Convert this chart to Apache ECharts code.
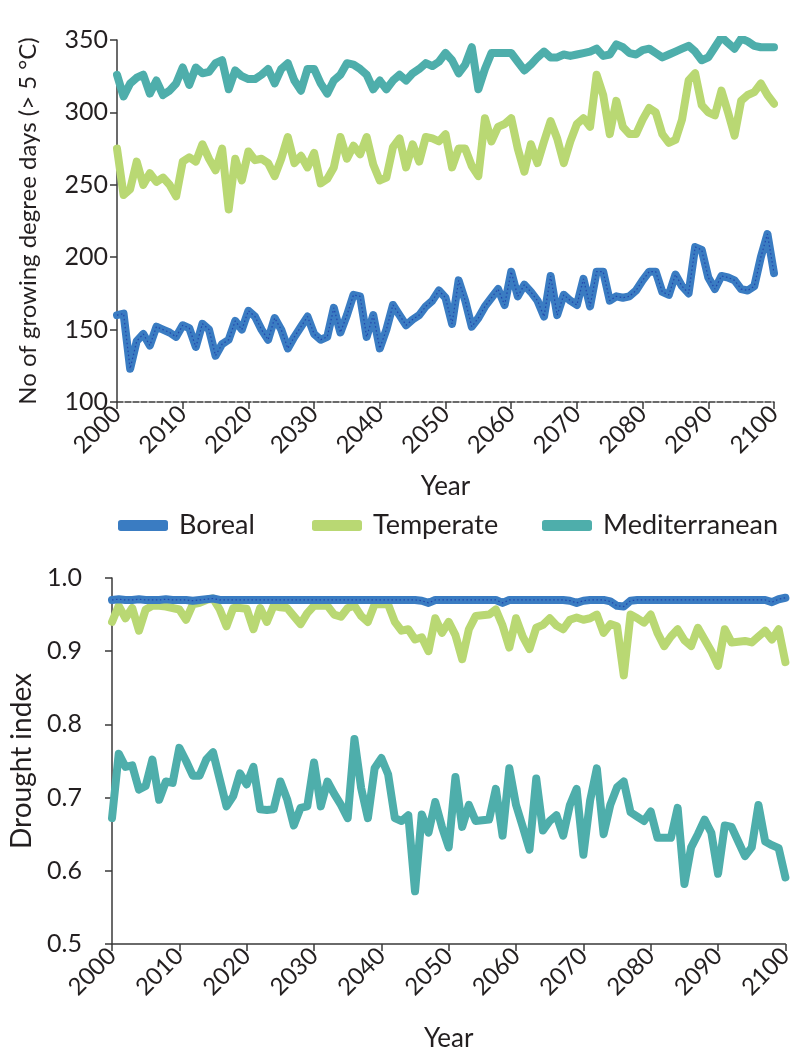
<!DOCTYPE html>
<html>
<head>
<meta charset="utf-8">
<script src="https://cdn.jsdelivr.net/npm/echarts@6/dist/echarts.min.js"></script>
<style>
  html, body { margin: 0; padding: 0; background: #ffffff; }
  #chart { width: 796px; height: 1053px; }
</style>
</head>
<body>
<div id="chart"></div>
<script>
// ---------- DATA ----------
const START_YEAR = 2000;
const END_YEAR = 2100;
const seriesNames = ['Boreal', 'Temperate', 'Mediterranean'];
const topTicks = [100, 150, 200, 250, 300, 350];
const bottomTicks = [0.5, 0.6, 0.7, 0.8, 0.9, 1.0];

// Growing degree days (> 5 °C), one value per year 2000..2100
const gddBoreal = [
  160, 161, 123, 142, 147, 139, 152, 150, 148, 145,
  153, 151, 138, 154, 150, 132, 140, 143, 156, 150,
  163, 159, 150, 143, 158, 150, 137, 145, 152, 159,
  147, 143, 145, 165, 148, 160, 174, 173, 145, 160,
  137, 150, 167, 160, 153, 157, 160, 166, 170, 177,
  172, 154, 184, 170, 152, 158, 166, 172, 178, 167,
  190, 173, 181, 176, 170, 159, 187, 160, 174, 170,
  167, 185, 166, 190, 190, 170, 173, 172, 173, 177,
  184, 190, 190, 176, 174, 188, 180, 175, 207, 205,
  186, 178, 187, 186, 184, 178, 177, 180, 200, 216,
  189
];
const gddTemperate = [
  275, 243, 247, 266, 250, 258, 252, 255, 250, 242,
  266, 269, 266, 278, 268, 260, 275, 233, 268, 253,
  273, 267, 268, 265, 256, 268, 283, 265, 270, 262,
  272, 251, 254, 262, 283, 268, 277, 271, 283, 264,
  253, 255, 276, 282, 262, 278, 266, 283, 282, 280,
  285, 262, 275, 275, 263, 256, 296, 280, 290, 292,
  296, 275, 259, 278, 265, 280, 294, 282, 265, 280,
  292, 296, 290, 326, 312, 285, 308, 290, 285, 285,
  295, 303, 300, 285, 279, 281, 295, 322, 327, 305,
  300, 298, 315, 300, 284, 308, 312, 314, 320, 312,
  306
];
const gddMediterranean = [
  326, 311, 320, 324, 326, 313, 322, 312, 315, 320,
  331, 319, 331, 327, 328, 334, 336, 316, 329, 325,
  323, 323, 326, 330, 320, 330, 334, 322, 315, 330,
  330, 320, 313, 322, 326, 334, 333, 330, 326, 316,
  322, 316, 322, 326, 322, 327, 330, 334, 332, 335,
  341, 336, 327, 333, 345, 316, 330, 341, 341, 341,
  341, 335, 329, 333, 338, 342, 338, 338, 340, 339,
  340, 341, 342, 344, 339, 340, 347, 345, 341, 340,
  343, 344, 341, 338, 340, 342, 344, 346, 342, 336,
  338, 345, 352, 348, 344, 351, 349, 346, 345, 345,
  345
];

// Drought index, one value per year 2000..2100
const diBoreal = [
  0.970, 0.971, 0.970, 0.970, 0.971, 0.970, 0.970, 0.970, 0.971, 0.970,
  0.970, 0.970, 0.969, 0.970, 0.971, 0.972, 0.970, 0.970, 0.970, 0.970,
  0.970, 0.970, 0.970, 0.970, 0.970, 0.970, 0.970, 0.970, 0.970, 0.970,
  0.970, 0.970, 0.970, 0.970, 0.970, 0.970, 0.970, 0.970, 0.970, 0.970,
  0.970, 0.970, 0.970, 0.970, 0.970, 0.970, 0.969, 0.966, 0.970, 0.970,
  0.970, 0.970, 0.970, 0.970, 0.970, 0.970, 0.970, 0.970, 0.966, 0.970,
  0.970, 0.970, 0.970, 0.970, 0.970, 0.970, 0.970, 0.970, 0.969, 0.966,
  0.969, 0.970, 0.970, 0.970, 0.968, 0.962, 0.961, 0.969, 0.970, 0.970,
  0.970, 0.970, 0.970, 0.970, 0.970, 0.970, 0.970, 0.970, 0.970, 0.970,
  0.970, 0.970, 0.970, 0.970, 0.970, 0.970, 0.970, 0.970, 0.967, 0.971,
  0.973
];
const diTemperate = [
  0.940, 0.962, 0.945, 0.959, 0.928, 0.957, 0.962, 0.962, 0.961, 0.959,
  0.957, 0.943, 0.964, 0.966, 0.970, 0.972, 0.957, 0.934, 0.959, 0.959,
  0.958, 0.930, 0.959, 0.940, 0.962, 0.960, 0.959, 0.948, 0.937, 0.952,
  0.962, 0.962, 0.962, 0.950, 0.947, 0.959, 0.962, 0.948, 0.940, 0.964,
  0.964, 0.964, 0.940, 0.928, 0.930, 0.916, 0.919, 0.900, 0.945, 0.925,
  0.940, 0.922, 0.889, 0.930, 0.948, 0.949, 0.950, 0.957, 0.935, 0.905,
  0.945, 0.920, 0.903, 0.932, 0.936, 0.945, 0.935, 0.930, 0.943, 0.946,
  0.943, 0.945, 0.950, 0.925, 0.937, 0.934, 0.867, 0.950, 0.945, 0.939,
  0.950, 0.925, 0.907, 0.920, 0.930, 0.915, 0.907, 0.932, 0.916, 0.900,
  0.880, 0.930, 0.912, 0.913, 0.914, 0.912, 0.920, 0.928, 0.916, 0.930,
  0.885
];
const diMediterranean = [
  0.672, 0.760, 0.742, 0.744, 0.711, 0.716, 0.752, 0.697, 0.722, 0.720,
  0.768, 0.750, 0.730, 0.730, 0.752, 0.762, 0.725, 0.688, 0.702, 0.733,
  0.718, 0.742, 0.684, 0.683, 0.684, 0.722, 0.698, 0.662, 0.686, 0.688,
  0.748, 0.688, 0.722, 0.705, 0.690, 0.672, 0.780, 0.713, 0.672, 0.740,
  0.754, 0.732, 0.672, 0.668, 0.676, 0.572, 0.677, 0.652, 0.694, 0.660,
  0.632, 0.728, 0.660, 0.690, 0.668, 0.669, 0.670, 0.712, 0.648, 0.740,
  0.690, 0.660, 0.629, 0.726, 0.655, 0.668, 0.676, 0.648, 0.690, 0.712,
  0.622, 0.696, 0.740, 0.650, 0.690, 0.714, 0.722, 0.680, 0.674, 0.668,
  0.681, 0.645, 0.645, 0.645, 0.686, 0.582, 0.632, 0.650, 0.670, 0.652,
  0.596, 0.662, 0.660, 0.640, 0.620, 0.632, 0.690, 0.640, 0.635, 0.631,
  0.591
];

// ---------- STYLE ----------
const COLORS = { Boreal: '#3a7cc2', Temperate: '#b9d873', Mediterranean: '#4eaeab' };
const DOT_COLOR = '#1c3aa8';
const FONT = 'Lato, "Open Sans", sans-serif';
const TXT = '#231f20';
const AX = '#3a3a3a';
const LEGEND_LEFT = [113, 307, 537];

const years = [];
for (let y = START_YEAR; y <= END_YEAR; y++) years.push(y);
const pairs = vals => years.map((y, i) => [y, vals[i]]);

function lineSeries(name, vals, xi, yi, extra) {
  return Object.assign({
    name: name, type: 'line', xAxisIndex: xi, yAxisIndex: yi,
    data: pairs(vals), showSymbol: false, symbol: 'none', silent: true,
    lineStyle: { color: COLORS[name], width: 8, cap: 'round', join: 'round' },
    itemStyle: { color: COLORS[name] },
    z: 2
  }, extra || {});
}
function dotOverlay(vals, xi, yi) {
  return {
    type: 'line', xAxisIndex: xi, yAxisIndex: yi, data: pairs(vals),
    showSymbol: false, symbol: 'none', silent: true,
    lineStyle: { color: DOT_COLOR, width: 1.2, type: [1.5, 2.5], opacity: 0.8 },
    z: 5
  };
}

const xAxisCommon = (dashed, gap) => ({
  type: 'value', min: START_YEAR, max: END_YEAR, interval: 10,
  name: 'Year', nameLocation: 'middle', nameGap: gap,
  nameTextStyle: { fontFamily: FONT, fontSize: 26, color: TXT },
  axisLine: { show: true, onZero: false, lineStyle: { color: AX, width: 1.5, type: dashed ? [6, 2] : 'solid' } },
  axisTick: { show: true, length: 7, lineStyle: { color: AX, width: 1.5 } },
  axisLabel: { rotate: 45, fontFamily: FONT, fontSize: 24, color: TXT, margin: 8, formatter: v => String(v) },
  splitLine: { show: false }
});

const legends = seriesNames.map((n, i) => ({
  data: [n], left: LEGEND_LEFT[i], top: 507,
  itemWidth: 50, itemHeight: 11, icon: 'roundRect',
  textStyle: { fontFamily: FONT, fontSize: 27, color: TXT, padding: [0, 0, 0, 6] }
}));

const option = {
  animation: false,
  backgroundColor: '#ffffff',
  legend: legends,
  grid: [
    { left: 117, top: 40, width: 657, height: 362 },
    { left: 112, top: 578, width: 674, height: 369 }
  ],
  xAxis: [
    Object.assign(xAxisCommon(true, 72), { gridIndex: 0 }),
    Object.assign(xAxisCommon(false, 82), { gridIndex: 1 })
  ],
  yAxis: [
    {
      gridIndex: 0, type: 'value', min: topTicks[0], max: topTicks[topTicks.length - 1], interval: 50,
      name: 'No of growing degree days (> 5 °C)', nameLocation: 'middle', nameGap: 77,
      nameTextStyle: { fontFamily: FONT, fontSize: 24, color: TXT },
      axisLine: { show: true, lineStyle: { color: AX, width: 1.5 } },
      axisTick: { show: true, length: 7, lineStyle: { color: AX, width: 1.5 } },
      axisLabel: { fontFamily: FONT, fontSize: 25, color: TXT, margin: 9 },
      splitLine: { show: false }
    },
    {
      gridIndex: 1, type: 'value', min: bottomTicks[0], max: bottomTicks[bottomTicks.length - 1], interval: 0.1,
      name: 'Drought index', nameLocation: 'middle', nameGap: 72,
      nameTextStyle: { fontFamily: FONT, fontSize: 28, color: TXT },
      axisLine: { show: true, lineStyle: { color: AX, width: 1.5 } },
      axisTick: { show: true, length: 7, lineStyle: { color: AX, width: 1.5 } },
      axisLabel: { fontFamily: FONT, fontSize: 25, color: TXT, margin: 30, formatter: v => v.toFixed(1) },
      splitLine: { show: false }
    }
  ],
  series: [
    lineSeries('Mediterranean', gddMediterranean, 0, 0),
    lineSeries('Temperate', gddTemperate, 0, 0),
    lineSeries('Boreal', gddBoreal, 0, 0, { z: 3 }),
    dotOverlay(gddBoreal, 0, 0),
    lineSeries('Mediterranean', diMediterranean, 1, 1),
    lineSeries('Temperate', diTemperate, 1, 1),
    lineSeries('Boreal', diBoreal, 1, 1, { z: 3 }),
    dotOverlay(diBoreal, 1, 1)
  ]
};

const chart = echarts.init(document.getElementById('chart'), null, { renderer: 'canvas' });
chart.setOption(option);
</script>
</body>
</html>
